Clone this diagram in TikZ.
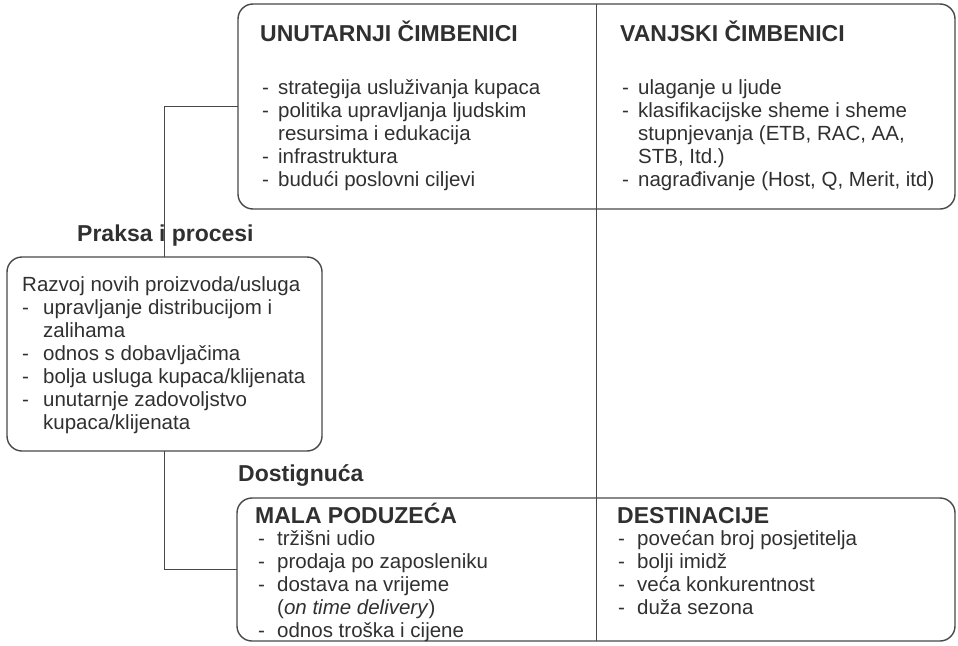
\documentclass[tikz,border=0pt]{standalone}
\usepackage{fontspec}
\setmainfont{Liberation Sans}
\definecolor{ink}{HTML}{303030}
\definecolor{edge}{HTML}{484848}
\newcommand\dashitem[1]{\makebox[#1][l]{-}}
\newcommand\contline[1]{\hspace*{#1}}
\newcommand\topstrut{\rule{0pt}{18pt}}
\begin{document}
\begin{tikzpicture}[x=1pt,y=-1pt,
  box/.style={draw=edge, line width=1.4pt, rounded corners=15pt, inner sep=0pt, outer sep=0pt, anchor=north west},
  wire/.style={draw=edge, line width=1.4pt},
  txt/.style={anchor=north west, inner sep=0pt, align=left, text=ink, font=\fontsize{20.5}{23}\selectfont},
  head/.style={anchor=base west, inner sep=0pt, text=ink, font=\fontsize{23}{26}\selectfont\bfseries}]
\useasboundingbox (0,0) rectangle (958,645);

% boxes
\node[box, minimum width=717pt, minimum height=205pt] (top) at (238,4) {};
\node[box, minimum width=718pt, minimum height=143pt] (bot) at (237,498) {};
\node[box, minimum width=315pt, minimum height=194pt] (lft) at (7,257) {};

% divider and connectors
\draw[wire] (top.north) -- (top.north |- bot.south);
\draw[wire] (top.west) -| (lft.north);
\draw[wire] (lft.south) |- (bot.west);

% headings
\node[head] (h1) at (260,41) {UNUTARNJI ČIMBENICI};
\node[head] (h2) at (620,41) {VANJSKI ČIMBENICI};
\node[head] (h3) at (77,241) {Praksa i procesi};
\node[head] (h4) at (238,481) {Dostignuća};
\node[head] (h5) at (255,523) {MALA PODUZEĆA};
\node[head] (h6) at (617,523) {DESTINACIJE};

% lists
\node[txt] (l1) at (262,76) {\topstrut\dashitem{16pt}strategija usluživanja kupaca\\
\dashitem{16pt}politika upravljanja ljudskim\\
\contline{16pt}resursima i edukacija\\
\dashitem{16pt}infrastruktura\\
\dashitem{16pt}budući poslovni ciljevi};

\node[txt] (l2) at (622,76) {\topstrut\dashitem{16pt}ulaganje u ljude\\
\dashitem{16pt}klasifikacijske sheme i sheme\\
\contline{16pt}stupnjevanja (ETB, RAC, AA,\\
\contline{16pt}STB, Itd.)\\
\dashitem{16pt}nagrađivanje (Host, Q, Merit, itd)};

\node[txt] (l3) at (22,273) {\topstrut Razvoj novih proizvoda/usluga\\
\dashitem{21pt}upravljanje distribucijom i\\
\contline{21pt}zalihama\\
\dashitem{21pt}odnos s dobavljačima\\
\dashitem{21pt}bolja usluga kupaca/klijenata\\
\dashitem{21pt}unutarnje zadovoljstvo\\
\contline{21pt}kupaca/klijenata};

\node[txt] (l4) at (258,527) {\topstrut\dashitem{19pt}tržišni udio\\
\dashitem{19pt}prodaja po zaposleniku\\
\dashitem{19pt}dostava na vrijeme\\
\contline{19pt}(\textit{on time delivery})\\
\dashitem{19pt}odnos troška i cijene};

\node[txt] (l5) at (618,527) {\topstrut\dashitem{19pt}povećan broj posjetitelja\\
\dashitem{19pt}bolji imidž\\
\dashitem{19pt}veća konkurentnost\\
\dashitem{19pt}duža sezona};
\end{tikzpicture}
\end{document}
